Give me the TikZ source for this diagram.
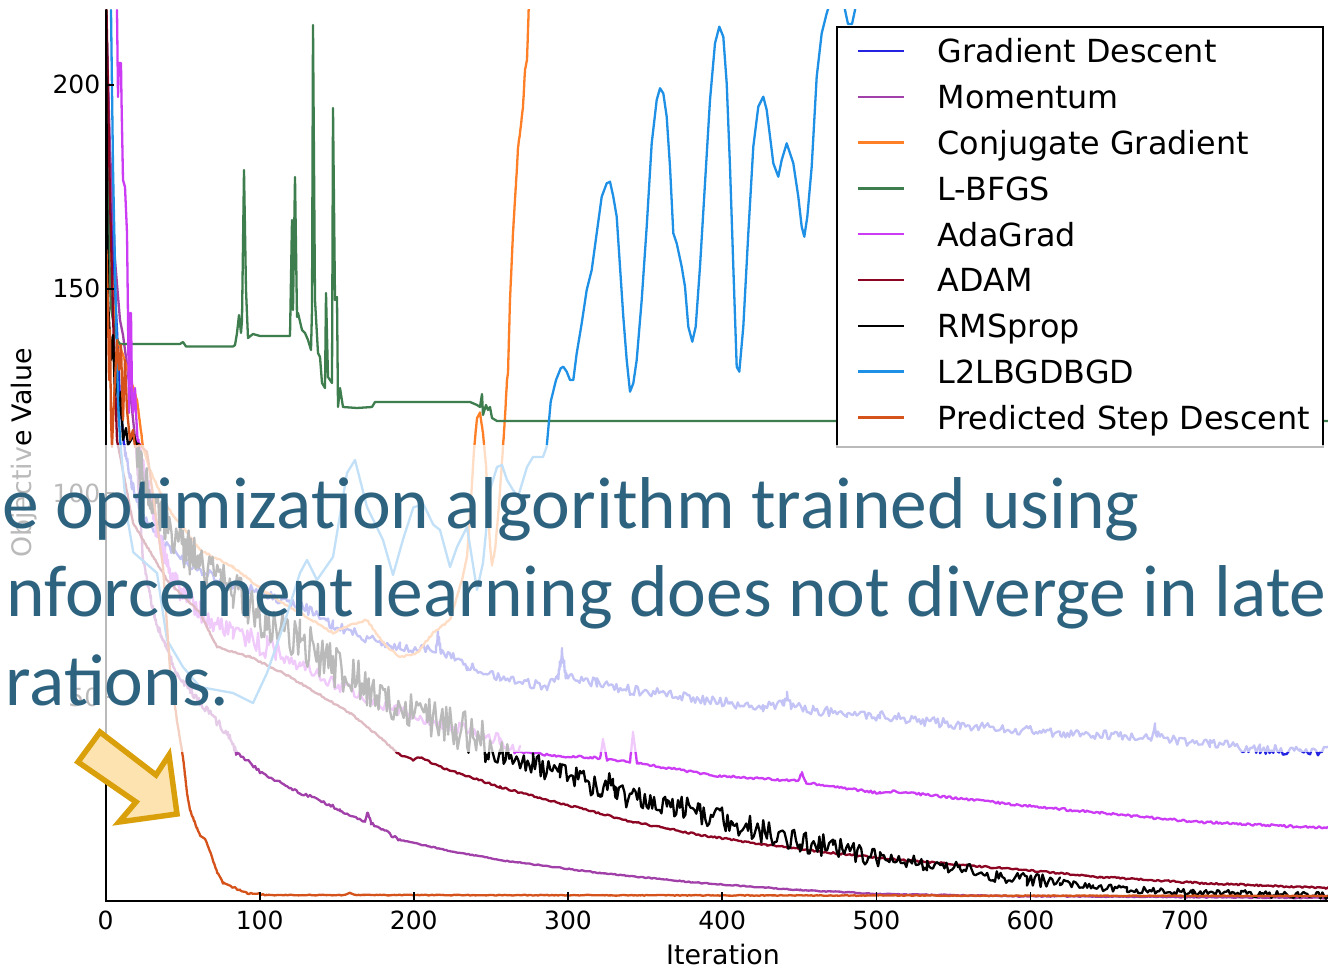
\documentclass[tikz,border=0pt]{standalone}
\usepackage{fontspec}
\setmainfont{DejaVu Sans}
\newfontfamily\slidefont{Carlito}

\definecolor{gdc}{RGB}{35,35,225}
\definecolor{momc}{RGB}{160,64,168}
\definecolor{cgc}{RGB}{255,127,39}
\definecolor{lbc}{RGB}{62,125,78}
\definecolor{agc}{RGB}{204,60,245}
\definecolor{adc}{RGB}{140,6,36}
\definecolor{rmc}{RGB}{0,0,0}
\definecolor{l2c}{RGB}{30,144,230}
\definecolor{psc}{RGB}{213,82,26}
\definecolor{txc}{RGB}{46,99,128}
\definecolor{arrowc}{RGB}{217,160,12}
\definecolor{arrowfill}{RGB}{253,227,176}

% a polyline whose vertical position gets uniform noise of +-#2, one sample every 1.8pt
% #1 style, #2 amplitude, #3/#4 first point, #5 remaining points as x/y list
\newcommand\noisy[5]{%
  \draw[#1] (#3,#4) \foreach \px/\py [remember=\px as \qx (initially #3),
                                       remember=\py as \qy (initially #4)] in {#5} {
    \pgfextra{\pgfmathtruncatemacro\ns{max(2,veclen(\px-\qx,\py-\qy)/1.8)}}
    -- plot[variable=\t, domain=0:1, samples=\ns]
         ({\qx+(\px-\qx)*\t}, {\qy+(\py-\qy)*\t+#2*rand})
  };%
}

\begin{document}
\begin{tikzpicture}[x=1pt,y=-1pt,
  curve/.style={line width=2.3pt, line join=round, line cap=round},
  ticklab/.style={font=\fontsize{25}{30}\selectfont, inner sep=0pt},
  axlab/.style={font=\fontsize{26.8}{32}\selectfont, inner sep=0pt},
  legtext/.style={font=\fontsize{31.8}{38}\selectfont, anchor=base west, inner sep=0pt},
  slide/.style={font=\slidefont\fontsize{73.4}{88}\selectfont, text=txc, anchor=base west, inner sep=0pt}]
\pgfmathsetseed{7}
\useasboundingbox (0,0) rectangle (1328,968);
\fill[white] (0,0) rectangle (1328,968);

% ---------- data curves ----------
\begin{scope}
\clip (105.5,10) rectangle (1328,901);

% Gradient Descent
\draw[curve, gdc] (106,10) -- (110,170) -- (114,280) -- (117,330) -- (120,400) -- (124,445);
\noisy{curve, gdc}{5}{124}{445}{132/485, 145/520, 165/545, 190/565, 220/580, 260/593, 300/605, 333/625, 367/638, 400/647, 413/650, 436/648, 438/636, 441/650, 467/666, 500/678, 547/686, 558/678, 562/652, 566/677, 597/683, 630/690, 663/693, 697/700, 730/703, 763/707, 783/705, 787/695, 791/706, 813/710, 847/713, 880/716, 960/725, 1060/733, 1150/738, 1155/728, 1160/739, 1210/744, 1260/749, 1300/751, 1328/750}

% Momentum
\draw[curve, momc] (106,10) -- (110,150) -- (115,260) -- (120,320) -- (123,335) -- (127,365) -- (131,400) -- (136,447);
\noisy{curve, momc}{4}{136}{447}{143/560, 155/620, 177/673, 200/703, 227/733, 237/753}
\noisy{curve, momc}{1.6}{237}{753}{247/760, 260/772, 280/782, 300/793, 320/800, 340/810, 365/821, 368/812, 371/823, 400/840}
\noisy{curve, momc}{0.5}{400}{840}{450/851, 500/860, 600/873, 700/883, 800/890, 880/894, 1000/896, 1328/898}

% Conjugate Gradient
\noisy{curve, cgc}{1}{106.5}{10}{107/133, 110/233, 115/333, 127/367, 137/400, 143/447, 150/470, 167/507, 200/550, 233/567, 267/593, 300/613, 333/633, 350/625, 367/620, 383/643, 400/657, 417/653, 433/633, 450/620, 462/580, 467/557, 471/500, 474/450, 477/418, 480/413, 483/433, 486/465, 488/510, 490/545, 492/565, 495/550, 499/505, 503/447, 505/417, 507/380, 508/373, 510/300, 513/233, 517/167, 518/147, 520/133, 523/107, 525/70, 527/60, 529/0}

% L-BFGS
\draw[curve, lbc] plot coordinates {(106.5,10) (109,250) (111,307) (114,327) (117,340) (120,344) (180,344) (183,342) (186,346.5) (233,346.5) (235,345) (237,333) (239,315) (241,333) (242,320) (244,170) (246,290) (248,338) (253,334) (260,336) (290,336) (292,220) (293,310) (295,177) (297,317) (298,313) (302,330) (305,333) (308,340) (311,350) (312,310) (313,25) (315,300) (318,353) (320,357) (322,383) (325,388) (326,293) (328,377) (332,383) (333,108) (335,300) (337,297) (338,407) (340,388) (343,407) (357,408) (372,407) (375,402) (470,402) (477,405) (480,407) (482,394) (483,415) (486,405) (488,410) (490,407) (492,418) (497,421) (1328,421)};

% AdaGrad
\draw[curve, agc] plot coordinates {(117,10) (118,97) (119,63) (121,63) (121.5,100) (123,180) (125,187) (127,233) (128,317) (129,413) (130,313) (131,313) (132,393) (133,413) (135,388) (136,413) (138,447)};
\noisy{curve, agc}{12}{138}{447}{147/480, 157/531.6, 167/566, 180/590, 200/613, 233/632, 267/647, 300/665}
\noisy{curve, agc}{6}{300}{665}{333/683, 367/698, 400/710, 433/722, 467/730, 500/740, 520/752}
\noisy{curve, agc}{1.2}{520}{752}{560/756, 600/758, 603/740, 607/760, 630/762, 633/733, 637/763, 700/773, 720/776, 798/781, 802/773, 806/783, 880/793, 893/791, 1000/803, 1100/813, 1200/822, 1328/828}

% ADAM
\draw[curve, adc] (106.5,10) -- (110,200) -- (114,350) -- (117,440);
\noisy{curve, adc}{0.9}{117}{440}{133/523, 167/580, 200/613, 217/647, 250/657, 283/673, 317/693, 350/713, 383/740, 400/755, 413/760, 420/757, 443/768, 500/787, 567/805, 633/822, 700/835, 767/845, 833/853, 880/858, 1000/868, 1100/877, 1200/883, 1328/888}

% RMSprop
\draw[curve, rmc] plot coordinates {(106,10) (107,200) (108,300) (111,360) (113,335) (115,395) (117,370) (119,420) (121,392) (123,440) (126,428) (128,445) (134,435) (137,447)};
\noisy{curve, rmc}{22}{137}{447}{140/470, 167/523, 200/567, 233/590, 267/623, 300/640, 333/667, 367/687, 400/707, 433/720, 467/730, 490/748}
\noisy{curve, rmc}{12}{490}{748}{500/752, 533/763, 560/773, 600/787, 613/779, 617/795, 667/803, 700/812, 733/822, 767/833, 800/840, 833/847, 880/855}
\noisy{curve, rmc}{7}{880}{855}{927/865, 960/868, 993/875, 1027/880, 1060/883}
\noisy{curve, rmc}{3.5}{1060}{883}{1093/887, 1127/889, 1193/893, 1260/894, 1328/896}

% L2LBGDBGD
\draw[curve, l2c] plot coordinates {(111,10) (113,167) (115,267) (117,353) (118,400) (120,438.6) (126.7,514.4) (133.3,552.3) (157,573) (167,640) (183,667) (200,687) (233,693) (253,703) (267,673) (283,627) (300,573) (307,560) (317,580) (333,557) (347,473) (355,460) (367,507) (383,540) (393,575) (403.3,538.5) (413.3,507.5) (423.3,504) (433.3,524.7) (440,530) (450,567) (457,547) (467,527) (477,590) (483,563) (490,490) (497,467) (502,465) (507,480) (513,490) (518,497) (527,467) (533,457) (543,457) (546.7,446.7) (550.7,401.7) (556,380) (560.7,368.3) (563.3,366.7) (566.7,371.7) (570,380) (573.3,380) (576.7,353.3) (581.7,323.3) (586.7,290) (591.7,270) (596.7,233.3) (601.7,196.7) (606.7,183.3) (610,181.7) (613.3,196.7) (616.7,216.7) (620,266.7) (623.3,316.7) (626.7,360) (630,391.7) (633.3,383.3) (636.7,360) (641.7,300) (646.7,226.7) (651.7,143.3) (656.7,100) (660,88.3) (663.3,93.3) (666.7,116.7) (670,166.7) (673.3,233.3) (676.7,243.3) (681.7,266.7) (685,286.7) (688.3,326.7) (692.3,341.7) (695.7,326.7) (700,266.7) (705,183.3) (710,100) (715,43.3) (719.3,26.7) (723.3,36.7) (726.7,83.3) (730,166.7) (733.3,266.7) (736.7,366.7) (739.3,371.7) (743.3,326.7) (748.3,233.3) (753.3,146.7) (758.3,106.7) (763.3,96.7) (766.7,110) (771.7,150) (773.3,163.3) (778.3,176.7) (781.7,160) (786.7,143.3) (790,153.3) (793.3,163.3) (798.3,196.7) (801.7,226.7) (804.3,236.7) (807.3,216.7) (811.7,166.7) (816.7,76.7) (821.7,33.3) (826.7,13.3) (828.3,8.3) (832,-20) (841,-20) (845,10) (848,24) (852,24) (855,10) (859,-20)};

% Predicted Step Descent
\draw[curve, psc] plot coordinates {(106.5,250) (108,310) (109,380) (110,330) (111,420) (112,447) (114,400) (117,340) (119,370) (121,345) (123,420) (125,360) (127,410) (130,440) (133,430) (135,447) (140,445) (147,452)};
\noisy{curve, psc}{1}{147}{452}{163/567, 170/669, 177/721, 183/757, 187/793, 190/810, 197/828, 200/836, 205/838, 210/852, 217/872, 223/883, 230/886, 240/890, 247/893, 267/895}
\noisy{curve, psc}{0.4}{267}{895}{345/895, 350/893, 355/895, 1328/896}
\end{scope}

% ---------- axes ----------
\coordinate (axtop) at (105.5,10);
\coordinate (origin) at (105.5,901);
\coordinate (axright) at (1328,901);
\draw[line width=2pt] (axtop) -- (origin) -- (axright);

\foreach \v/\y in {50/697,100/493,150/289,200/85}{
  \draw[line width=1.6pt] (105.5,\y) -- (114,\y);
  \node[ticklab, anchor=base east] (ytick\v) at (100.5,\y+9) {\v};
}
\foreach \v/\x in {0/105.5,100/259.7,200/413.8,300/568,400/722.2,500/876.4,600/1030.5,700/1184.7}{
  \draw[line width=1.6pt] (\x,901) -- (\x,892);
  \node[ticklab, anchor=base] (xtick\v) at (\x,929.3) {\v};
}
\node[axlab, anchor=base] (xlab) at (723,964) {Iteration};
\node[axlab, rotate=90] (ylab) at (24,453) {Objective Value};

% ---------- legend ----------
\node[draw, fill=white, line width=2pt, minimum width=486pt, minimum height=420pt,
      inner sep=0pt, anchor=north west] (legend) at (836,26) {};
\foreach \k/\c/\t in {0/gdc/Gradient Descent, 1/momc/Momentum, 2/cgc/Conjugate Gradient,
                      3/lbc/L-BFGS, 4/agc/AdaGrad, 5/adc/ADAM, 6/rmc/RMSprop,
                      7/l2c/L2LBGDBGD, 8/psc/Predicted Step Descent}{
  \draw[line width=2.5pt, \c] (858,51+45.8*\k) -- (904,51+45.8*\k);
  \node[legtext] (leg\k) at (937.5,63+45.8*\k) {\t};
}

% ---------- translucent caption band ----------
\fill[white, opacity=0.73] (0,445) rectangle (1328,752);

\node[slide] (cap1) at (-72,528) {\phantom{Th}e optimization algorithm trained using};
\node[slide] (cap2) at (-72,616.5) {\phantom{rei}nforcement learning does not diverge in late};
\node[slide] (cap3) at (-72,705) {\phantom{ite}rations.};

% ---------- block arrow ----------
\draw[line width=5.5pt, draw=arrowc, fill=arrowfill, line join=miter]
  (78,762) -- (100,732) -- (156,775) -- (169,755) -- (177,814) -- (119,822) -- (136,802) -- cycle;
\end{tikzpicture}
\end{document}
